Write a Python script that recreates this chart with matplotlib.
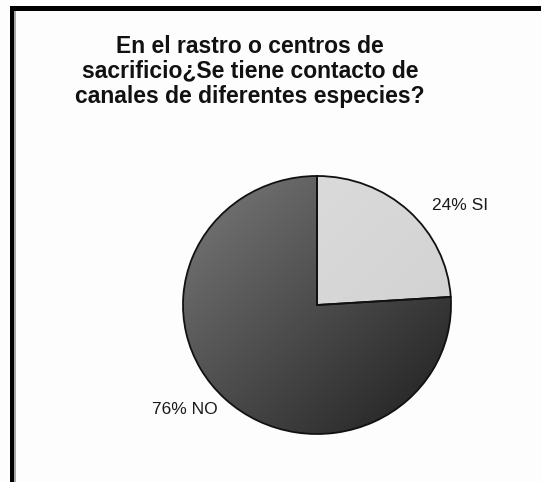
import numpy as np
import matplotlib
matplotlib.use("Agg")
import matplotlib.pyplot as plt
from matplotlib.patches import Rectangle
from matplotlib.colors import LinearSegmentedColormap

plt.rcParams['font.family'] = ['Liberation Sans', 'DejaVu Sans']

# Survey answers
categories = ["SI", "NO"]
percentages = [24, 76]
title_lines = ["En el rastro o centros de",
               "sacrificio¿Se tiene contacto de",
               "canales de diferentes especies?"]

W, H = 541, 482
DPI = 100
fig = plt.figure(figsize=(W / DPI, H / DPI), dpi=DPI)
fig.patch.set_facecolor("#fdfdfd")

def px_box(x0, y0, x1, y1):
    """Figure-fraction box from pixel coordinates (origin top-left)."""
    return [x0 / W, 1 - y1 / H, (x1 - x0) / W, (y1 - y0) / H]

# Outer chart frame (top and left edges)
fig.add_artist(Rectangle((10 / W, 1 - 11 / H), 1, 5 / H, transform=fig.transFigure,
                         facecolor="black", edgecolor="none"))
fig.add_artist(Rectangle((10 / W, -0.1), 4 / W, 1 - 6 / H + 0.1, transform=fig.transFigure,
                         facecolor="black", edgecolor="none"))
fig.add_artist(Rectangle((14 / W, -0.1), 1.5 / W, 1 - 11 / H + 0.1, transform=fig.transFigure,
                         facecolor="#a8a8a8", edgecolor="none"))

# Title
fig.text(250 / W, 1 - 35 / H, "\n".join(title_lines), ha="center", va="top",
         fontsize=16.5, fontweight="bold", color="#111111", linespacing=1.1)

# Pie axes: slightly wider than tall
cx, cy, rx, ry = 317, 305, 134, 129
ax = fig.add_axes(px_box(cx - rx, cy - ry, cx + rx, cy + ry))
wedges, _ = ax.pie(percentages, startangle=90, counterclock=False, radius=1.0,
                   colors=["#d9d9d9", "#555555"],
                   wedgeprops=dict(edgecolor="#111111", linewidth=1.3))
ax.set_aspect("auto")
ax.set_xlim(-1.0, 1.0)
ax.set_ylim(-1.0, 1.0)
ax.axis("off")

# Diagonal shading for each wedge (light at top-left, darker to bottom-right)
yy, xx = np.mgrid[1:-1:300j, -1:1:300j]
grad = (xx - yy + 2) / 4.0
fills = [("#dedede", "#cfcfcf"), ("#7a7a7a", "#1e1e1e")]
for w, (c0, c1) in zip(wedges, fills):
    cmap = LinearSegmentedColormap.from_list("shade", [c0, c1])
    im = ax.imshow(grad, extent=(-1, 1, -1, 1), cmap=cmap, vmin=0, vmax=1,
                   aspect="auto", zorder=w.get_zorder() + 0.1, interpolation="bilinear")
    im.set_clip_path(w)
    w.set_facecolor("none")
    w.set_zorder(w.get_zorder() + 0.5)

# Data labels
label_pos = [(1.07, 0.77), (-0.99, -0.81)]
for cat, pct, (lx, ly) in zip(categories, percentages, label_pos):
    ax.text(lx, ly, f"{pct}% {cat}", ha="center", va="center",
            fontsize=12.5, color="#1a1a1a", clip_on=False)

fig.savefig("out.png", dpi=DPI, facecolor=fig.get_facecolor())
